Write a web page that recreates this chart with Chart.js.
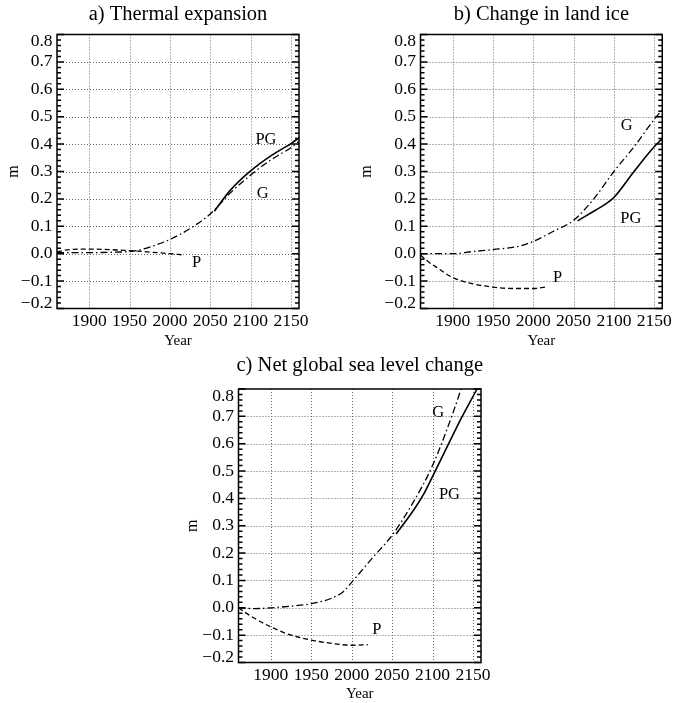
<!DOCTYPE html>
<html>
<head>
<meta charset="utf-8">
<script src="https://cdn.jsdelivr.net/npm/chart.js@4.4.1/dist/chart.umd.min.js"></script>
<style>
  body { margin: 0; background: #fff; }
  #wrap { position: relative; width: 674px; height: 703px; }
  canvas { position: absolute; }
</style>
</head>
<body>
<div id="wrap">
  <canvas id="panelA" width="337" height="350" style="left:0;top:0"></canvas>
  <canvas id="panelB" width="337" height="350" style="left:337px;top:0"></canvas>
  <canvas id="panelC" width="360" height="353" style="left:160px;top:350px"></canvas>
</div>
<script>
// tick labels
const xTicks = [1900, 1950, 2000, 2050, 2100, 2150];
const yTicks = [-0.2, -0.1, 0.0, 0.1, 0.2, 0.3, 0.4, 0.5, 0.6, 0.7, 0.8];

// a) thermal expansion
const thermalPYears = [1860, 1870, 1880, 1900, 1925, 1950, 1975, 2000, 2015];
const thermalP = [0.006, 0.013, 0.016, 0.017, 0.015, 0.011, 0.006, 0.000, -0.004];
const thermalGYears = [1860, 1880, 1900, 1925, 1950, 1960, 1975, 2000, 2025, 2050, 2075, 2100, 2125, 2150, 2160];
const thermalG = [0.004, 0.004, 0.004, 0.005, 0.008, 0.012, 0.024, 0.052, 0.092, 0.145, 0.222, 0.287, 0.342, 0.387, 0.41];
const thermalPGYears = [2055, 2075, 2100, 2125, 2150, 2160];
const thermalPG = [0.155, 0.232, 0.302, 0.357, 0.402, 0.423];

// b) change in land ice
const icePYears = [1860, 1870, 1880, 1900, 1925, 1950, 1975, 2000, 2015];
const iceP = [-0.005, -0.03, -0.05, -0.087, -0.11, -0.122, -0.127, -0.127, -0.122];
const iceGYears = [1860, 1880, 1900, 1925, 1950, 1980, 2000, 2025, 2050, 2075, 2100, 2125, 2150, 2160];
const iceG = [0.0, 0.0, 0.0, 0.008, 0.015, 0.026, 0.045, 0.082, 0.122, 0.2, 0.3, 0.39, 0.49, 0.525];
const icePGYears = [2055, 2075, 2090, 2100, 2125, 2150, 2160];
const icePG = [0.12, 0.155, 0.182, 0.205, 0.3, 0.39, 0.42];

// c) net global sea level change
const netPYears = [1860, 1875, 1900, 1925, 1950, 1975, 2000, 2020];
const netP = [0.0, -0.03, -0.07, -0.1, -0.118, -0.13, -0.137, -0.135];
const netGYears = [1860, 1880, 1900, 1925, 1950, 1975, 1990, 2000, 2025, 2050, 2075, 2100, 2125, 2140, 2160];
const netG = [0.0, -0.003, 0.0, 0.006, 0.015, 0.035, 0.06, 0.093, 0.18, 0.265, 0.38, 0.52, 0.71, 0.84, 1.0];
const netPGYears = [2055, 2075, 2088, 2100, 2120, 2135, 2155, 2160];
const netPG = [0.27, 0.35, 0.41, 0.48, 0.6, 0.69, 0.8, 0.83];

const serif = "'Liberation Serif', 'Times New Roman', serif";

const toPoints = (xs, ys) => xs.map((x, i) => ({ x: x, y: ys[i] }));

const series = (xs, ys, dash, width) => ({
  data: toPoints(xs, ys),
  borderColor: '#000',
  borderWidth: width,
  borderDash: dash,
  pointRadius: 0,
  fill: false,
  cubicInterpolationMode: 'monotone',
  clip: 0
});

const fmt = v => (v < 0 ? '\u2212' : '') + Math.abs(v).toFixed(1);

// grid, box frame, inward ticks, y labels, titles and curve labels
const makeDecor = (cfg) => ({
  id: 'decor',
  beforeDatasetsDraw(chart) {
    const { ctx, chartArea: a, scales: { x, y } } = chart;
    ctx.save();
    ctx.strokeStyle = '#666';
    ctx.lineWidth = 1;
    ctx.setLineDash([1, 2]);
    xTicks.forEach(v => {
      const px = Math.round(x.getPixelForValue(v)) + 0.5;
      ctx.beginPath(); ctx.moveTo(px, a.top); ctx.lineTo(px, a.bottom); ctx.stroke();
    });
    yTicks.slice(1, -1).forEach(v => {
      const py = Math.round(y.getPixelForValue(v)) + 0.5;
      ctx.beginPath(); ctx.moveTo(a.left, py); ctx.lineTo(a.right, py); ctx.stroke();
    });
    ctx.restore();
  },
  afterDraw(chart) {
    const { ctx, chartArea: a, scales: { x, y } } = chart;
    ctx.save();
    ctx.strokeStyle = '#000';
    ctx.lineWidth = 1.5;
    ctx.strokeRect(a.left, a.top, a.right - a.left, a.bottom - a.top);

    // minor ticks every 0.02, major every 0.1
    for (let i = 0; i <= 50; i++) {
      const py = y.getPixelForValue(-0.2 + i * 0.02);
      const len = i % 5 === 0 ? 7 : 4;
      ctx.beginPath();
      ctx.moveTo(a.left, py); ctx.lineTo(a.left + len, py);
      ctx.moveTo(a.right, py); ctx.lineTo(a.right - len, py);
      ctx.stroke();
    }

    ctx.fillStyle = '#000';
    ctx.font = '17.5px ' + serif;
    ctx.textAlign = 'right';
    ctx.textBaseline = 'middle';
    yTicks.forEach((v, i) => {
      let py = y.getPixelForValue(v);
      if (i === yTicks.length - 1) py += 7;
      if (i === 0) py -= 5;
      ctx.fillText(fmt(v), a.left - 4.5, py);
    });

    ctx.textAlign = 'center';
    ctx.font = '20.5px ' + serif;
    ctx.fillText(cfg.title, (a.left + a.right) / 2, cfg.titleY);

    ctx.font = '16.5px ' + serif;
    cfg.labels.forEach(l => {
      ctx.fillText(l.text, x.getPixelForValue(l.x), y.getPixelForValue(l.y));
    });

    ctx.translate(cfg.mX, (a.top + a.bottom) / 2);
    ctx.rotate(-Math.PI / 2);
    ctx.font = '16px ' + serif;
    ctx.fillText('m', 0, 0);
    ctx.restore();
  }
});

function buildPanel(id, cfg) {
  new Chart(document.getElementById(id), {
    type: 'line',
    data: {
      datasets: [
        series(cfg.pYears, cfg.p, [5, 3], 1.3),
        series(cfg.gYears, cfg.g, [7, 3, 1.5, 3], 1.3),
        series(cfg.pgYears, cfg.pg, [], 1.6)
      ]
    },
    options: {
      responsive: false,
      animation: false,
      layout: { padding: { top: cfg.top, right: cfg.right, left: 0, bottom: 0 } },
      scales: {
        x: {
          type: 'linear',
          min: 1860,
          max: 2160,
          afterFit: s => { s.height = cfg.bottom; },
          afterBuildTicks: s => { s.ticks = xTicks.map(v => ({ value: v })); },
          grid: { display: false, drawTicks: false },
          border: { display: false },
          ticks: {
            autoSkip: false,
            maxRotation: 0,
            padding: 2,
            color: '#000',
            font: { family: serif, size: 17.5 },
            callback: v => String(v)
          },
          title: {
            display: true,
            text: 'Year',
            color: '#000',
            font: { family: serif, size: 15 },
            padding: { top: 0, bottom: 0 }
          }
        },
        y: {
          min: -0.2,
          max: 0.8,
          afterFit: s => { s.width = cfg.left; },
          ticks: { display: false },
          grid: { display: false, drawTicks: false },
          border: { display: false }
        }
      },
      plugins: { legend: { display: false }, tooltip: { enabled: false } }
    },
    plugins: [makeDecor(cfg)]
  });
}

buildPanel('panelA', {
  title: 'a) Thermal expansion', titleY: 15,
  left: 57, right: 38, top: 34.5, bottom: 41.5, mX: 14,
  pYears: thermalPYears, p: thermalP,
  gYears: thermalGYears, g: thermalG,
  pgYears: thermalPGYears, pg: thermalPG,
  labels: [
    { text: 'PG', x: 2119, y: 0.417 },
    { text: 'G', x: 2115, y: 0.219 },
    { text: 'P', x: 2033, y: -0.033 }
  ]
});

buildPanel('panelB', {
  title: 'b) Change in land ice', titleY: 15,
  left: 83.5, right: 9.5, top: 34.5, bottom: 41.5, mX: 30,
  pYears: icePYears, p: iceP,
  gYears: iceGYears, g: iceG,
  pgYears: icePGYears, pg: icePG,
  labels: [
    { text: 'G', x: 2116, y: 0.466 },
    { text: 'PG', x: 2121, y: 0.129 },
    { text: 'P', x: 2030, y: -0.088 }
  ]
});

buildPanel('panelC', {
  title: 'c) Net global sea level change', titleY: 16,
  left: 78.5, right: 39, top: 39, bottom: 40.5, mX: 33,
  pYears: netPYears, p: netP,
  gYears: netGYears, g: netG,
  pgYears: netPGYears, pg: netPG,
  labels: [
    { text: 'G', x: 2107, y: 0.715 },
    { text: 'PG', x: 2121, y: 0.415 },
    { text: 'P', x: 2031, y: -0.081 }
  ]
});
</script>
</body>
</html>
